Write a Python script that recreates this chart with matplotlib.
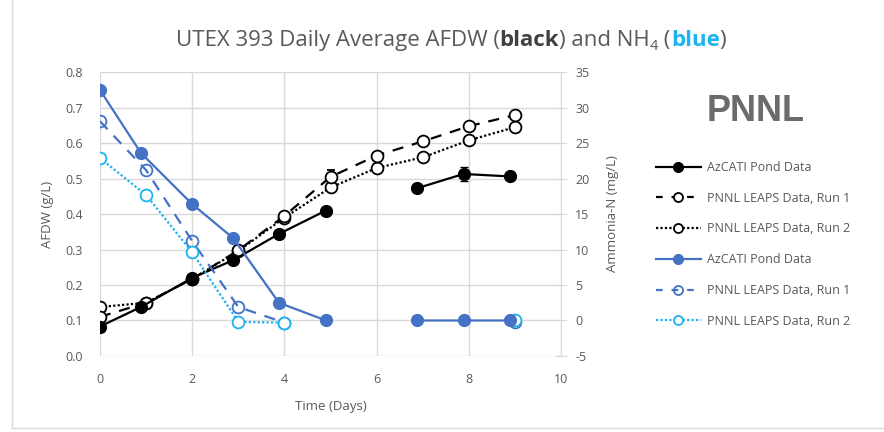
import numpy as np
import matplotlib.pyplot as plt
from matplotlib import transforms
from matplotlib.lines import Line2D

plt.rcParams['font.family'] = ['Open Sans', 'DejaVu Sans']
plt.rcParams['axes.unicode_minus'] = False

# days of sampling (pond has no sample near day 6)
days_pond = [0, 0.89, 2, 2.89, 3.88, 4.9, 5.9, 6.88, 7.88, 8.89]
days_pnnl = [0, 1, 2, 3, 4, 5, 6, 7, 8, 9]

# AFDW (g/L), left axis
afdw_pond = [0.083, 0.138, 0.22, 0.27, 0.344, 0.41, np.nan, 0.473, 0.513, 0.506]
afdw_pond_err = [0, 0, 0, 0, 0, 0, 0, 0, 0.02, 0]
afdw_run1 = [0.11, 0.15, 0.217, 0.298, 0.395, 0.505, 0.565, 0.605, 0.648, 0.679]
afdw_run1_err = [0, 0, 0, 0, 0, 0.02, 0, 0, 0, 0]
afdw_run2 = [0.138, 0.15, 0.217, 0.296, 0.39, 0.475, 0.53, 0.56, 0.608, 0.645]

# Ammonia-N (mg/L), right axis
nh4_pond = [32.5, 23.6, 16.4, 11.6, 2.5, 0.0, np.nan, 0.0, 0.0, 0.0]
nh4_run1 = [28.1, 21.2, 11.2, 1.9, -0.3, np.nan, np.nan, np.nan, np.nan, -0.2]
nh4_run2 = [22.9, 17.7, 9.6, -0.2, -0.3, np.nan, np.nan, np.nan, np.nan, 0.1]

gray = '#595959'
grid = '#D9D9D9'
blue = '#4472C4'
cyan = '#1CB3F0'

fig = plt.figure(figsize=(8.84, 4.32), dpi=100)
ax = fig.add_axes([0.113, 0.176, 0.522, 0.657])
ax2 = ax.twinx()

ms = 8.5
ax.errorbar(days_pond, afdw_pond, yerr=afdw_pond_err, color='black', lw=1.6,
            marker='o', ms=ms, capsize=3, elinewidth=1, zorder=4)
ax.errorbar(days_pnnl, afdw_run1, yerr=afdw_run1_err, color='black', lw=1.6,
            ls=(0, (5, 4)), marker='o', ms=ms, mfc='white', mew=1.3,
            capsize=3, elinewidth=1, zorder=3)
ax.plot(days_pnnl, afdw_run2, color='black', lw=1.6, ls=(0, (1, 1)),
        marker='o', ms=ms, mfc='white', mew=1.3, zorder=3)

ax2.plot(days_pond, nh4_pond, color=blue, lw=1.6, marker='o', ms=ms, zorder=4)
ax2.plot(days_pnnl, nh4_run1, color=blue, lw=1.6, ls=(0, (5, 4)),
         marker='o', ms=ms, mfc='none', mew=1.3, zorder=3)
ax2.plot(days_pnnl, nh4_run2, color=cyan, lw=1.6, ls=(0, (1, 1)),
         marker='o', ms=ms, mfc='white', mew=1.3, zorder=3)

ax.set_xlim(0, 10)
ax.set_ylim(0, 0.8)
ax2.set_ylim(-5, 35)
ax.set_xticks(range(0, 11, 2))
ax.set_yticks(np.arange(0, 0.81, 0.1))
ax.set_yticklabels([f'{v:.1f}' for v in np.arange(0, 0.81, 0.1)])
ax2.set_yticks(range(-5, 36, 5))

ax.grid(True, color=grid, lw=1)
ax.set_axisbelow(True)
for a in (ax, ax2):
    for s in a.spines.values():
        s.set_visible(False)
    a.tick_params(colors=gray, labelsize=9, length=0)
ax2.spines['right'].set_visible(True)
ax2.spines['right'].set_color(grid)
ax2.tick_params(axis='y', direction='inout', length=8, color=grid,
                labelcolor=gray, pad=6)
ax.tick_params(axis='x', pad=12)
ax.tick_params(axis='y', pad=12)

ax.set_xlabel('Time (Days)', color=gray, fontsize=9.5, labelpad=10)
ax.set_ylabel('AFDW (g/L)', color=gray, fontsize=9.5, labelpad=8)
ax2.set_ylabel('Ammonia-N (mg/L)', color=gray, fontsize=9.5, labelpad=12)

# legend
labels = ['AzCATI Pond Data', 'PNNL LEAPS Data, Run 1', 'PNNL LEAPS Data, Run 2',
          'AzCATI Pond Data', 'PNNL LEAPS Data, Run 1', 'PNNL LEAPS Data, Run 2']
handles = [
    Line2D([], [], color='black', lw=1.6, marker='o', ms=7),
    Line2D([], [], color='black', lw=1.6, ls=(0, (3, 4)), marker='o', ms=6.5, mfc='white', mew=1.3),
    Line2D([], [], color='black', lw=1.6, ls=(0, (1, 1)), marker='o', ms=6.5, mfc='white', mew=1.3),
    Line2D([], [], color=blue, lw=1.6, marker='o', ms=7),
    Line2D([], [], color=blue, lw=1.6, ls=(0, (3, 4)), marker='o', ms=6.5, mfc='none', mew=1.3),
    Line2D([], [], color=cyan, lw=1.6, ls=(0, (1, 1)), marker='o', ms=6.5, mfc='white', mew=1.3),
]
leg = fig.legend(handles, labels, loc='upper left', bbox_to_anchor=(0.735, 0.642),
                 frameon=False, fontsize=9, handlelength=3.6, labelspacing=1.42,
                 handletextpad=0.5, borderpad=0)
for t in leg.get_texts():
    t.set_color(gray)

fig.text(0.855, 0.743, 'PNNL', fontsize=26, fontweight='bold', color='#6B6B6B',
         ha='center', va='center', family='Liberation Sans')

# title with coloured pieces, centred over the plot
big, small = 16, 10.5
pieces = [('UTEX 393 Daily Average AFDW (', gray, 'normal', big, 0),
          ('black', '#404040', 'bold', big, 0),
          (') and NH', gray, 'normal', big, 0),
          ('4', gray, 'normal', small, -4),
          (' (', gray, 'normal', big, 0),
          ('blue', cyan, 'bold', big, 0),
          (')', gray, 'normal', big, 0)]
fig.canvas.draw()
renderer = fig.canvas.get_renderer()
total = 0
for text, col, w, fs, dy in pieces:
    t = fig.text(0, 0, text, fontweight=w, fontsize=fs)
    total += t.get_window_extent(renderer).width
    t.remove()
tr = fig.transFigure
x0, y0 = (451 - total / 2) / 884, 1 - 46 / 432
for text, col, w, fs, dy in pieces:
    t = fig.text(x0, y0, text, color=col, fontweight=w, fontsize=fs, va='baseline',
                 transform=transforms.offset_copy(tr, fig=fig, y=dy, units='dots'))
    t.draw(renderer)
    ex = t.get_window_extent(renderer)
    tr = transforms.offset_copy(tr, fig=fig, x=ex.width, units='dots')

# chart area border
fig.add_artist(Line2D([12 / 884, 12 / 884], [4 / 432, 1], color='#D9D9D9', lw=1,
                      transform=fig.transFigure))
fig.add_artist(Line2D([12 / 884, 1], [4 / 432, 4 / 432], color='#D9D9D9', lw=1,
                      transform=fig.transFigure))

fig.savefig('out.png', dpi=100)
